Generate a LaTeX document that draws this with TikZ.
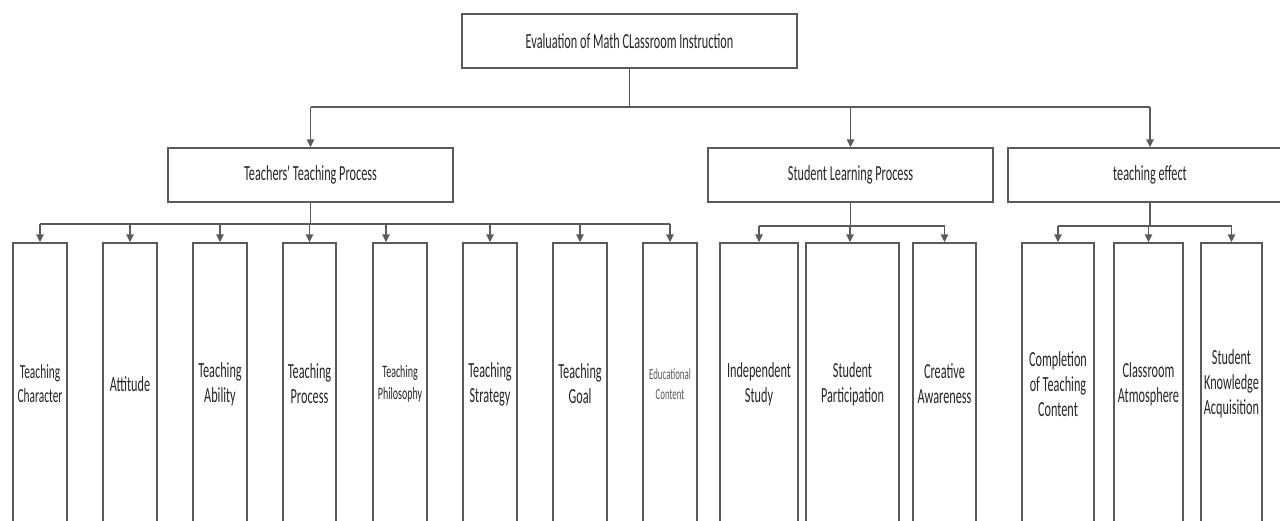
\documentclass[tikz,border=0pt]{standalone}
\usepackage{fontspec}
\newfontfamily\cf[FakeStretch=0.57]{Carlito}
\usetikzlibrary{arrows.meta}
\definecolor{ln}{HTML}{5A5A5A}
\definecolor{tx}{HTML}{262626}
\tikzset{
  box/.style={draw=ln, line width=1.5pt, fill=white, rectangle, inner sep=0pt, align=center, text=tx,
    font=\cf\fontsize{21.5}{25}\selectfont},
  leaf/.style={box, minimum height=282pt},
  conn/.style={draw=ln, line width=1.5pt},
  arr/.style={conn, -{Triangle[length=8pt,width=7.5pt]}}
}
\begin{document}
\begin{tikzpicture}[x=1pt,y=-1pt]
\useasboundingbox (0,0) rectangle (1280,520);
\clip (0,0) rectangle (1280,520);
% top
\node[box, minimum width=335pt, minimum height=54pt] (top) at (629.5,41) {Evaluation of Math CLassroom Instruction};
% level 2
\node[box, minimum width=285pt, minimum height=54pt] (tp) at (310.5,175) {Teachers' Teaching Process};
\node[box, minimum width=285pt, minimum height=54pt] (sp) at (850.5,175) {Student Learning Process};
\node[box, minimum width=284pt, minimum height=54pt] (te) at (1150,175) {teaching effect};
% leaves: teacher
\node[leaf, minimum width=54pt, font=\cf\fontsize{20}{24}\selectfont] (l1) at (40,384) {Teaching\\Character};
\node[leaf, minimum width=54pt] (l2) at (130,384) {Attitude};
\node[leaf, minimum width=54pt] (l3) at (220,384) {Teaching\\Ability};
\node[leaf, minimum width=53pt] (l4) at (309.5,384) {Teaching\\Process};
\node[leaf, minimum width=54pt, font=\cf\fontsize{17.5}{22.5}\selectfont] (l5) at (400,384) {Teaching\\Philosophy};
\node[leaf, minimum width=54pt] (l6) at (490,384) {Teaching\\Strategy};
\node[leaf, minimum width=54pt] (l7) at (580,384) {Teaching\\Goal};
\node[leaf, minimum width=54pt, text=ln, font=\cf\fontsize{15.5}{20}\selectfont] (l8) at (670,384) {Educational\\Content};
% leaves: student
\node[leaf, minimum width=78pt] (s1) at (759,384) {Independent\\Study};
\node[leaf, minimum width=93pt] (s2) at (852.5,384) {Student\\Participation};
\node[leaf, minimum width=63pt] (s3) at (944.5,384) {Creative\\Awareness};
% leaves: effect
\node[leaf, minimum width=72pt] (e1) at (1058,384) {Completion\\of Teaching\\Content};
\node[leaf, minimum width=69pt] (e2) at (1148.5,384) {Classroom\\Atmosphere};
\node[leaf, minimum width=61pt] (e3) at (1231.5,384) {Student\\Knowledge\\Acquisition};
% connectors top -> level 2
\coordinate (b0) at (629.5,107);
\draw[conn] (top.south) -- (b0);
\draw[conn] (tp.north |- b0) -- (te.north |- b0);
\draw[arr] (tp.north |- b0) -- (tp.north);
\draw[arr] (sp.north |- b0) -- (sp.north);
\draw[arr] (te.north |- b0) -- (te.north);
% teacher bus
\coordinate (bt) at (0,224);
\draw[conn] (tp.south) -- (tp.south |- bt);
\draw[conn] (l1.north |- bt) -- (l8.north |- bt);
\foreach \n in {l1,l2,l3,l4,l6,l7,l8} \draw[arr] (\n.north |- bt) -- (\n.north);
\coordinate (a5) at (386,224);
\draw[arr] (a5) -- (a5 |- l5.north);
% student bus
\coordinate (bs) at (0,226);
\draw[conn] (sp.south) -- (sp.south |- bs);
\draw[conn] (s1.north |- bs) -- (s3.north |- bs);
\coordinate (a6) at (850,226);
\draw[arr] (s1.north |- bs) -- (s1.north);
\draw[arr] (a6) -- (a6 |- s2.north);
\draw[arr] (s3.north |- bs) -- (s3.north);
% effect bus
\coordinate (be) at (0,226);
\draw[conn] (te.south) -- (te.south |- be);
\draw[conn] (e1.north |- be) -- (e3.north |- be);
\foreach \n in {e1,e2,e3} \draw[arr] (\n.north |- be) -- (\n.north);
\end{tikzpicture}
\end{document}
